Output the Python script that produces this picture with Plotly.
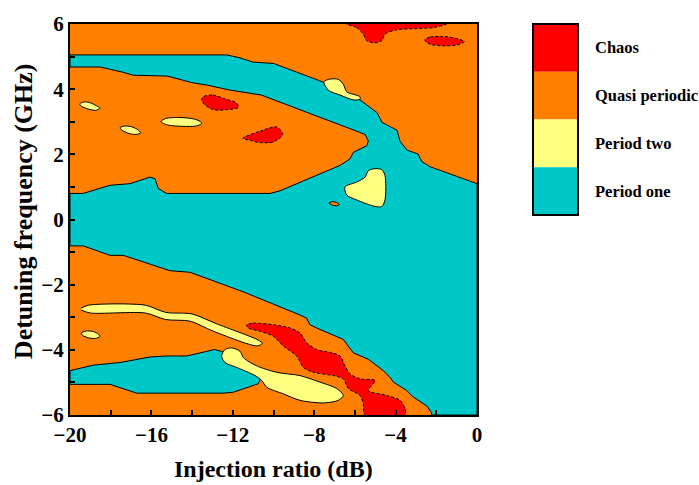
import plotly.graph_objects as go

# ---------------- colours ----------------
C_CHAOS = "#FF0000"
C_QP = "#FF8000"
C_P2 = "#FFFF80"
C_P1 = "#00C8C8"

# ---------------- axis ticks ----------------
X_TICKS = [-20, -16, -12, -8, -4, 0]
Y_TICKS = [-6, -4, -2, 0, 2, 4, 6]

LEGEND_LABELS = ["Chaos", "Quasi periodic", "Period two", "Period one"]

# ---------------- region boundaries (injection ratio dB, detuning GHz) ----------------
# Period one: main region (upper band + central wedge)
P1_MAIN_X = [-20, -12.3, -11.7, -11.0, -10.0, -7.57, -5.75, -4.91, -4.67, -3.93, -3.78, -3.44, -2.9, -2.7, -2.31, 0,
             0, -2.23,
             -2.23, -2.47, -3.13, -3.45, -4.11, -4.28, -4.60, -5.10, -5.34, -6.08, -6.32, -6.57, -7.88, -8.21, -8.37,
             -8.70, -11.48, -14.10, -15.09, -17.38, -18.03, -19.35, -20,
             -20,
             -19.35, -18.03, -17.05, -16.07, -15.82, -15.66, -15.25, -10.17, -9.68, -6.73, -6.24, -6.08, -5.42, -5.34,
             -5.50, -5.91,
             -10.6, -11.0, -12.2, -13.3, -14.0, -15.2, -16.9, -17.4, -18.1, -18.5, -20, -20]
P1_MAIN_Y = [5.05, 5.05, 4.97, 4.83, 4.79, 4.22, 3.67, 3.28, 2.98, 2.74, 2.40, 2.13, 2.01, 1.77, 1.62, 1.10,
             -6, -6,
             -5.93, -5.72, -5.45, -5.25, -4.99, -4.84, -4.64, -4.39, -4.29, -4.09, -3.88, -3.68, -3.33, -3.23, -3.03,
             -2.93, -2.22, -1.62, -1.57, -1.10, -1.10, -0.81, -0.81,
             0.80,
             0.80, 1.05, 1.10, 1.30, 1.25, 0.95, 0.80, 0.80, 0.88, 1.66, 1.86, 2.06, 2.26, 2.41,
             2.61, 2.71,
             3.82, 3.86, 3.98, 4.13, 4.2, 4.40, 4.43, 4.52, 4.62, 4.68, 4.68, 5.05]

# Period one: lower-left pocket
P1_BLOB_X = [-20, -18.85, -17.54, -16.07, -15.25, -14.27, -13.3, -12.9, -12.55, -11.5, -10.6, -10.75, -11.97,
             -12.47, -16.72, -17.54, -18.03, -20, -20]
P1_BLOB_Y = [-4.64, -4.47, -4.39, -4.22, -4.19, -4.19, -4.05, -3.99, -4.05, -4.4, -4.85, -5.04, -5.30,
             -5.33, -5.33, -5.15, -5.06, -5.06, -4.64]

# Period two islands
P2_STREAK_X = [-19.45, -19.1, -16.3, -15.3, -14.0, -12.8, -10.75, -10.55, -10.8, -12.95, -14.1, -15.3, -16.3, -19.0, -19.45]
P2_STREAK_Y = [-2.72, -2.63, -2.63, -2.85, -2.90, -3.2, -3.70, -3.80, -3.88, -3.43, -3.12, -3.07, -2.87, -2.87, -2.78]

P2_DUMB_X = [-12.38, -12.06, -11.65, -11.48, -10.83, -9.84, -8.70, -7.72, -6.89, -6.57, -6.82, -7.55, -8.70,
             -9.52, -10.33, -10.58, -10.91, -11.81, -12.38, -12.55, -12.38]
P2_DUMB_Y = [-3.99, -3.94, -4.04, -4.24, -4.49, -4.69, -4.79, -4.99, -5.19, -5.40, -5.55, -5.63, -5.55,
             -5.35, -5.15, -4.94, -4.79, -4.54, -4.39, -4.19, -3.99]

P2_LOW_EL_X = [-19.45, -19.2, -18.85, -18.6, -18.53, -18.75, -19.1, -19.4, -19.45]
P2_LOW_EL_Y = [-3.49, -3.42, -3.44, -3.52, -3.59, -3.65, -3.63, -3.55, -3.49]

P2_UP_A_X = [-19.52, -19.3, -19.0, -18.7, -18.53, -18.75, -19.1, -19.45, -19.52]
P2_UP_A_Y = [3.55, 3.61, 3.58, 3.49, 3.41, 3.35, 3.39, 3.48, 3.55]

P2_UP_B_X = [-17.54, -17.3, -17.0, -16.7, -16.53, -16.75, -17.1, -17.45, -17.54]
P2_UP_B_Y = [2.82, 2.87, 2.85, 2.77, 2.66, 2.61, 2.64, 2.74, 2.82]

P2_UP_C_X = [-15.53, -15.3, -14.6, -13.94, -13.6, -13.53, -13.8, -14.5, -15.2, -15.53]
P2_UP_C_Y = [3.0, 3.1, 3.13, 3.09, 3.01, 2.95, 2.87, 2.86, 2.9, 3.0]

P2_BAND_X = [-7.52, -7.22, -6.81, -6.57, -6.40, -5.75, -5.75, -6.08, -6.73, -7.31, -7.52]
P2_BAND_Y = [4.23, 4.31, 4.30, 4.15, 3.92, 3.77, 3.69, 3.67, 3.82, 3.97, 4.23]

P2_TRI_X = [-5.01, -4.68, -4.52, -4.52, -4.68, -5.01, -5.91, -6.40, -6.49, -5.91, -5.50, -5.34, -5.01]
P2_TRI_Y = [1.56, 1.53, 1.35, 0.60, 0.40, 0.40, 0.60, 0.75, 1.00, 1.15, 1.30, 1.50, 1.56]

# Quasi periodic small island inside period one
QP_SMALL_X = [-7.27, -7.1, -6.9, -6.77, -6.9, -7.1, -7.27]
QP_SMALL_Y = [0.51, 0.55, 0.52, 0.46, 0.42, 0.44, 0.51]

# Chaos islands
CH_A_X = [-13.45, -12.96, -12.47, -11.81, -11.73, -12.30, -12.96, -13.37, -13.53, -13.45]
CH_A_Y = [3.77, 3.82, 3.72, 3.57, 3.44, 3.37, 3.37, 3.52, 3.67, 3.77]

CH_B_X = [-11.51, -10.66, -9.84, -9.55, -10.01, -10.66, -11.15, -11.51]
CH_B_Y = [2.49, 2.71, 2.84, 2.61, 2.38, 2.36, 2.43, 2.49]

CH_TOP_X = [-6.40, -5.91, -5.59, -5.42, -5.01, -4.68, -4.52, -3.95, -2.97, -2.15, -1.66, -1.49, -6.40]
CH_TOP_Y = [6.0, 5.89, 5.69, 5.49, 5.42, 5.49, 5.69, 5.82, 5.86, 5.89, 5.96, 6.0, 6.0]

CH_RIGHT_X = [-2.56, -2.3, -1.8, -1.1, -0.62, -0.9, -1.5, -2.2, -2.5, -2.56]
CH_RIGHT_Y = [5.52, 5.6, 5.62, 5.57, 5.46, 5.37, 5.33, 5.36, 5.45, 5.52]

CH_LOW_X = [-11.32, -10.99, -10.01, -9.19, -8.70, -8.37, -7.88, -7.14, -6.73, -6.49, -6.24, -5.75, -5.01, -5.34,
            -4.44, -3.78, -3.54, -3.54, -5.50, -5.59, -5.75, -6.32, -6.57, -7.06, -8.04, -8.53, -8.86, -9.52,
            -10.01, -10.66, -11.24, -11.32]
CH_LOW_Y = [-3.23, -3.18, -3.23, -3.33, -3.48, -3.78, -3.99, -4.09, -4.19, -4.49, -4.74, -4.89, -4.94, -5.25,
            -5.40, -5.55, -5.80, -6.0, -6.0, -5.65, -5.40, -5.19, -4.89, -4.79, -4.69, -4.54, -4.19, -3.88,
            -3.58, -3.43, -3.33, -3.23]

fig = go.Figure()


def region(xs, ys, color, dashed=False, smooth=True):
    fig.add_trace(go.Scatter(
        x=xs, y=ys, mode="lines", fill="toself", fillcolor=color,
        line=dict(color="black", width=1, dash="3px,2px" if dashed else "solid",
                  shape="spline" if smooth else "linear", smoothing=0.8),
        hoverinfo="skip", showlegend=False))


region(P1_MAIN_X, P1_MAIN_Y, C_P1, smooth=False)
region(P1_BLOB_X, P1_BLOB_Y, C_P1, smooth=False)
region(P2_STREAK_X, P2_STREAK_Y, C_P2)
region(P2_DUMB_X, P2_DUMB_Y, C_P2)
region(P2_LOW_EL_X, P2_LOW_EL_Y, C_P2)
region(P2_UP_A_X, P2_UP_A_Y, C_P2)
region(P2_UP_B_X, P2_UP_B_Y, C_P2)
region(P2_UP_C_X, P2_UP_C_Y, C_P2)
region(P2_BAND_X, P2_BAND_Y, C_P2)
region(P2_TRI_X, P2_TRI_Y, C_P2)
region(QP_SMALL_X, QP_SMALL_Y, C_QP)
region(CH_A_X, CH_A_Y, C_CHAOS, dashed=True)
region(CH_B_X, CH_B_Y, C_CHAOS, dashed=True)
region(CH_TOP_X, CH_TOP_Y, C_CHAOS, dashed=True)
region(CH_RIGHT_X, CH_RIGHT_Y, C_CHAOS, dashed=True)
region(CH_LOW_X, CH_LOW_Y, C_CHAOS, dashed=True)

FONT = "Liberation Serif, Times New Roman, serif"

fig.update_xaxes(range=[-20, 0], tickvals=X_TICKS, ticks="inside", ticklen=5, tickwidth=1.5,
                 tickcolor="black", showline=True, linewidth=2, linecolor="black", mirror=True,
                 showgrid=False, zeroline=False,
                 tickfont=dict(family=FONT, size=21, color="black", weight="bold"),
                 minor=dict(dtick=2, tick0=0, ticks="inside", ticklen=5, tickwidth=1.5, tickcolor="black"))
fig.update_yaxes(range=[-6, 6], tickvals=Y_TICKS, ticks="inside", ticklen=5, tickwidth=1.5,
                 tickcolor="black", showline=True, linewidth=2, linecolor="black", mirror=True,
                 showgrid=False, zeroline=False,
                 tickfont=dict(family=FONT, size=21, color="black", weight="bold"),
                 minor=dict(dtick=1, tick0=0, ticks="inside", ticklen=5, tickwidth=1.5, tickcolor="black"))

# legend-like colour key
key_colors = [C_CHAOS, C_QP, C_P2, C_P1]
x0, x1 = (533 - 70) / 407, (578 - 70) / 407
top, bottom = 1.0, (415 - 212) / 397
h = (top - bottom) / 4
shapes = []
annotations = []
for i, (c, lab) in enumerate(zip(key_colors, LEGEND_LABELS)):
    y1 = top - i * h
    y0 = y1 - h
    shapes.append(dict(type="rect", xref="paper", yref="paper", x0=x0, x1=x1, y0=y0, y1=y1,
                       fillcolor=c, line=dict(width=0), layer="above"))
    annotations.append(dict(xref="paper", yref="paper", x=(593 - 70) / 407, y=(y0 + y1) / 2,
                            text=lab, showarrow=False, xanchor="left", yanchor="middle",
                            font=dict(family=FONT, size=16.5, color="black", weight="bold")))
shapes.append(dict(type="rect", xref="paper", yref="paper", x0=x0, x1=x1, y0=bottom, y1=top,
                   fillcolor="rgba(0,0,0,0)", line=dict(color="black", width=2), layer="above"))

annotations.append(dict(xref="paper", yref="paper", x=0.499, y=(415 - 470) / 397,
                        text="Injection ratio (dB)", showarrow=False, xanchor="center", yanchor="middle",
                        font=dict(family=FONT, size=24, color="black", weight="bold")))
annotations.append(dict(xref="paper", yref="paper", x=(23 - 70) / 407, y=(415 - 208) / 397,
                        text="Detuning frequency (GHz)", showarrow=False, textangle=-90,
                        xanchor="center", yanchor="middle",
                        font=dict(family=FONT, size=26, color="black", weight="bold")))

fig.update_layout(width=699, height=485, margin=dict(l=70, r=222, t=18, b=70),
                  plot_bgcolor=C_QP, paper_bgcolor="white",
                  shapes=shapes, annotations=annotations, showlegend=False)

fig.write_html("out.html")
